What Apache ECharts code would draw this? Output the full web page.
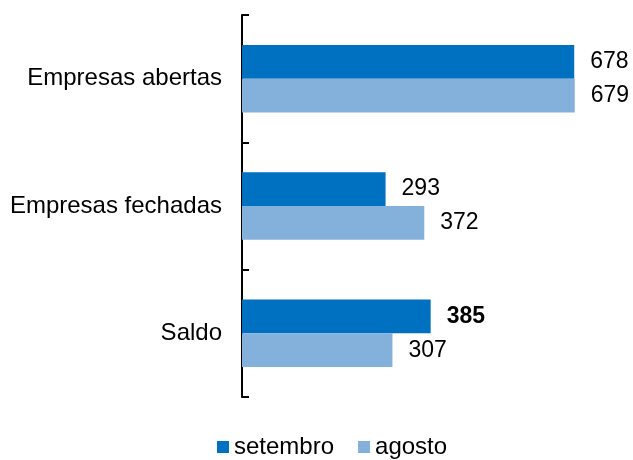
<!DOCTYPE html>
<html lang="pt" style="height: 100%">
<head>
  <meta charset="utf-8">
  <title>Empresas abertas e fechadas</title>
</head>
<body style="height: 100%; margin: 0; background: #fff">
  <div id="container" style="width: 633px; height: 460px"></div>
  <script src="https://cdn.jsdelivr.net/npm/echarts@6/dist/echarts.min.js"></script>
  <script type="text/javascript">
    var categories = ['Empresas abertas', 'Empresas fechadas', 'Saldo'];
    var setembro = [678, 293, 385];
    var agosto = [679, 372, 307];

    var font = 'Arial, "Liberation Sans", sans-serif';
    var chart = echarts.init(document.getElementById('container'), null, { renderer: 'canvas' });

    var labelStyle = {
      show: true,
      position: 'right',
      distance: 16,
      fontSize: 23,
      color: '#000',
      fontFamily: font
    };

    var option = {
      animation: false,
      backgroundColor: '#fff',
      grid: { left: 242, right: 48, top: 15, bottom: 63 },
      legend: {
        top: 430,
        left: 212,
        itemWidth: 12,
        itemHeight: 12,
        itemGap: 24,
        icon: 'rect',
        textStyle: { fontSize: 24, color: '#000', fontFamily: font },
        data: ['setembro', 'agosto']
      },
      xAxis: {
        type: 'value',
        min: 0,
        max: 700,
        show: false
      },
      yAxis: {
        type: 'category',
        inverse: true,
        data: categories,
        axisLine: { show: true, lineStyle: { color: '#000', width: 2 } },
        axisTick: { show: true, inside: true, length: 7, alignWithLabel: false, lineStyle: { color: '#000', width: 2 } },
        axisLabel: { margin: 20, fontSize: 24, color: '#000', fontFamily: font }
      },
      series: [
        {
          name: 'setembro',
          type: 'bar',
          barGap: '0%',
          barCategoryGap: '47%',
          itemStyle: { color: '#0070C0' },
          label: labelStyle,
          data: setembro.map(function (v, i) {
            var item = { value: v };
            if (categories[i] === 'Saldo') item.label = { fontWeight: 'bold' };
            return item;
          })
        },
        {
          name: 'agosto',
          type: 'bar',
          barGap: '0%',
          barCategoryGap: '47%',
          itemStyle: { color: '#84B0DC' },
          label: labelStyle,
          data: agosto
        }
      ]
    };
    chart.setOption(option);
  </script>
</body>
</html>
